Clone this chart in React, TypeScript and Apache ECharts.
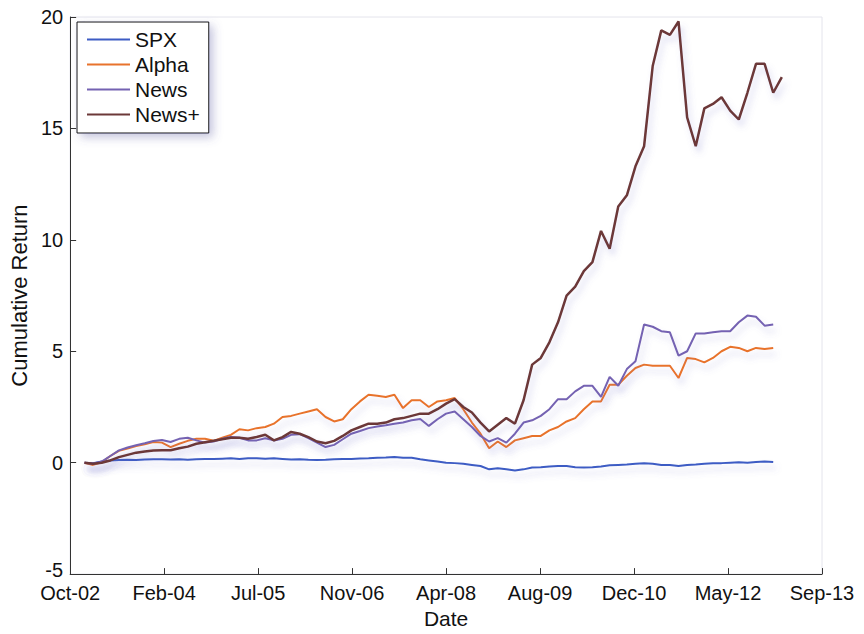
import React, { useEffect, useRef } from "react";
import * as echarts from "echarts";

// x positions: months since Oct-2002, sampled every 1.5 months starting at 2.5
const X_START_MONTH = 2.5;
const X_STEP_MONTH = 1.5;
const TICK_MONTHS = 16.375;

const xTickLabels = ["Oct-02", "Feb-04", "Jul-05", "Nov-06", "Apr-08", "Aug-09", "Dec-10", "May-12", "Sep-13"];

const seriesNames = ["SPX", "Alpha", "News", "News+"];

const spx = [
  0, -0.02, 0.05, 0.1, 0.12, 0.13, 0.12, 0.14, 0.15, 0.15,
  0.14, 0.15, 0.13, 0.15, 0.17, 0.16, 0.18, 0.2, 0.17, 0.2,
  0.2, 0.18, 0.2, 0.17, 0.14, 0.15, 0.13, 0.12, 0.13, 0.15,
  0.17, 0.17, 0.19, 0.2, 0.22, 0.23, 0.25, 0.22, 0.22, 0.15,
  0.1, 0.05, 0.0, -0.02, -0.05, -0.1, -0.15, -0.3, -0.25, -0.3,
  -0.35, -0.3, -0.22, -0.2, -0.17, -0.15, -0.15, -0.2, -0.22, -0.2,
  -0.17, -0.12, -0.1, -0.08, -0.05, -0.03, -0.05, -0.1, -0.1, -0.15,
  -0.1, -0.08, -0.05, -0.03, -0.02, 0.0, 0.02, 0.0, 0.03, 0.05, 0.03,
];

const alpha = [
  0, -0.1, 0.02, 0.3, 0.53, 0.63, 0.75, 0.83, 0.93, 0.9,
  0.7, 0.85, 0.98, 1.07, 1.07, 0.98, 1.12, 1.25, 1.5, 1.45,
  1.55, 1.6, 1.75, 2.05, 2.1, 2.2, 2.3, 2.4, 2.05, 1.85,
  1.95, 2.4, 2.75, 3.05, 3.0, 2.95, 3.05, 2.45, 2.8, 2.8,
  2.5, 2.75, 2.8, 2.9, 2.4, 1.8, 1.3, 0.65, 0.95, 0.7,
  1.0, 1.1, 1.2, 1.2, 1.45, 1.6, 1.85, 2.0, 2.4, 2.75,
  2.75, 3.5, 3.5, 3.9, 4.25, 4.4, 4.35, 4.35, 4.35, 3.8,
  4.7, 4.65, 4.5, 4.7, 5.0, 5.2, 5.15, 5.0, 5.15, 5.1, 5.15,
];

const news = [
  0, -0.05, 0.05, 0.3, 0.55, 0.68, 0.78, 0.87, 0.97, 1.02,
  0.93, 1.07, 1.12, 1.0, 0.9, 0.95, 1.07, 1.15, 1.12, 1.0,
  1.0, 1.1, 1.0, 1.07, 1.25, 1.28, 1.1, 0.9, 0.7, 0.8,
  1.05, 1.3, 1.42, 1.55, 1.62, 1.68, 1.75, 1.8, 1.9, 1.96,
  1.65, 1.95, 2.2, 2.3, 1.95, 1.6, 1.2, 0.95, 1.1, 0.9,
  1.3, 1.8, 1.9, 2.1, 2.4, 2.85, 2.85, 3.2, 3.45, 3.45,
  2.95, 3.85, 3.45, 4.2, 4.55, 6.2, 6.1, 5.9, 5.85, 4.8,
  5.0, 5.8, 5.8, 5.85, 5.9, 5.9, 6.3, 6.6, 6.55, 6.15, 6.2,
];

const newsPlus = [
  0, -0.05, 0.0, 0.1, 0.25, 0.35, 0.45, 0.5, 0.55, 0.56,
  0.56, 0.65, 0.72, 0.85, 0.92, 0.98, 1.05, 1.12, 1.12, 1.07,
  1.15, 1.25, 1.0, 1.15, 1.38, 1.3, 1.15, 0.95, 0.87, 0.98,
  1.2, 1.45, 1.6, 1.75, 1.75, 1.8, 1.95, 2.0, 2.1, 2.2,
  2.2, 2.4, 2.65, 2.85, 2.5, 2.25, 1.8, 1.4, 1.7, 2.0,
  1.75, 2.8, 4.4, 4.7, 5.4, 6.3, 7.5, 7.9, 8.6, 9.0,
  10.4, 9.6, 11.5, 12.0, 13.3, 14.2, 17.8, 19.4, 19.2, 19.8,
  15.5, 14.2, 15.9, 16.1, 16.4, 15.8, 15.4, 16.6, 17.9, 17.9, 16.6, 17.3,
];

const seriesValues = [spx, alpha, news, newsPlus];
const seriesColors = ["#3d5cc4", "#e8732c", "#7462b2", "#6c3838"];

const FONT = "'Liberation Sans', Arial, Helvetica, sans-serif";

export default function App() {
  const ref = useRef<HTMLDivElement>(null);

  useEffect(() => {
    if (!ref.current) return;
    const chart = echarts.init(ref.current, undefined, { renderer: "svg" });

    const series = seriesNames.map((name, k) => ({
      name,
      type: "line",
      symbol: "none",
      data: seriesValues[k].map((v, i) => [X_START_MONTH + i * X_STEP_MONTH, v]),
      lineStyle: {
        color: seriesColors[k],
        width: k === 3 ? 2.5 : 2,
        shadowColor: "rgba(110,110,200,0.28)",
        shadowBlur: 6,
        shadowOffsetX: 3,
        shadowOffsetY: 6,
      },
      itemStyle: { color: seriesColors[k] },
      z: 2 + k,
    }));

    chart.setOption({
      animation: false,
      backgroundColor: "#ffffff",
      textStyle: { fontFamily: FONT },
      grid: {
        left: 70,
        right: 42,
        top: 17,
        bottom: 54,
        show: true,
        borderColor: "#e4e4ec",
        borderWidth: 1,
      },
      legend: {
        orient: "vertical",
        left: 77,
        top: 22,
        data: seriesNames,
        icon: "rect",
        itemWidth: 43,
        itemHeight: 2,
        itemGap: 4,
        padding: [7, 9, 8, 10],
        backgroundColor: "#ffffff",
        borderColor: "#111",
        borderWidth: 1,
        shadowColor: "rgba(90,90,160,0.35)",
        shadowBlur: 10,
        shadowOffsetX: 4,
        shadowOffsetY: 4,
        textStyle: { fontFamily: FONT, fontSize: 21, color: "#111", lineHeight: 21 },
      },
      xAxis: {
        type: "value",
        min: 0,
        max: 131,
        interval: TICK_MONTHS,
        name: "Date",
        nameLocation: "middle",
        nameGap: 31,
        nameTextStyle: { fontFamily: FONT, fontSize: 21, color: "#111" },
        axisLine: { show: true, onZero: false, lineStyle: { color: "#333", width: 1 } },
        axisTick: { show: true, inside: true, length: 6, lineStyle: { color: "#333" } },
        axisLabel: {
          fontFamily: FONT,
          fontSize: 20,
          lineHeight: 16,
          color: "#111",
          margin: 11,
          showMinLabel: true,
          showMaxLabel: true,
          formatter: (v: number) => xTickLabels[Math.round(v / TICK_MONTHS)] ?? "",
        },
        splitLine: { show: false },
      },
      yAxis: {
        type: "value",
        min: -5,
        max: 20,
        interval: 5,
        name: "Cumulative Return",
        nameLocation: "middle",
        nameGap: 37,
        nameTextStyle: { fontFamily: FONT, fontSize: 22, color: "#111" },
        axisLine: { show: true, onZero: false, lineStyle: { color: "#333", width: 1 } },
        axisTick: { show: true, inside: true, length: 6, lineStyle: { color: "#333" } },
        axisLabel: {
          fontFamily: FONT,
          fontSize: 20,
          lineHeight: 16,
          color: "#111",
          margin: 7,
          formatter: (v: number) => (v === -5 ? "{lo|" + v + "}" : String(v)),
          rich: {
            lo: {
              fontFamily: FONT,
              fontSize: 20,
              lineHeight: 16,
              color: "#111",
              padding: [0, 0, 8, 0],
            },
          },
        },
        splitLine: { show: false },
      },
      series,
    });

    return () => chart.dispose();
  }, []);

  return (
    <div
      ref={ref}
      style={{ position: "absolute", left: 0, top: 0, width: 864, height: 634 }}
    />
  );
}
